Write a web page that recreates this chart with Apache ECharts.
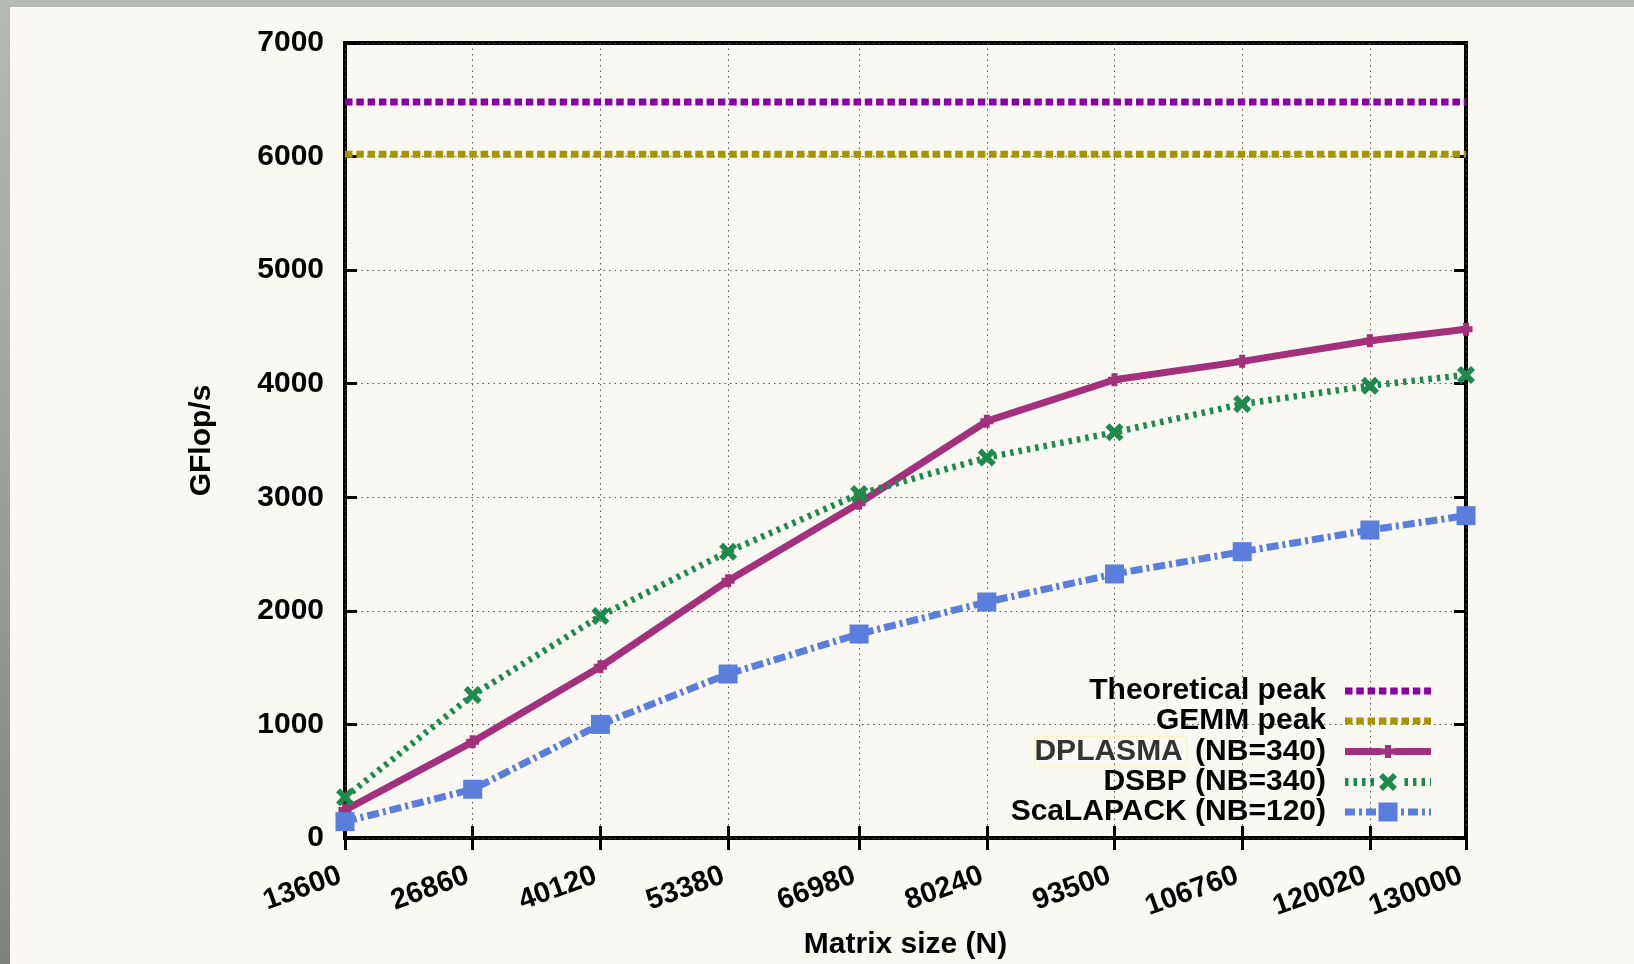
<!DOCTYPE html>
<html>
<head>
<meta charset="utf-8">
<script src="https://cdn.jsdelivr.net/npm/echarts@6/dist/echarts.min.js"></script>
<style>
  html, body { margin: 0; padding: 0; width: 1634px; height: 964px; overflow: hidden;
    background: linear-gradient(to bottom, #b6bab4 0%, #9ca09a 50%, #7e827c 100%); background-color: #9a9e98; }
  #chart { position: absolute; left: 10px; top: 7px; width: 1624px; height: 957px; background: #f9f8f2; }
</style>
</head>
<body>
<div id="chart"></div>
<script>
// ---- data ----
const xValues = [13600, 26860, 40120, 53380, 66980, 80240, 93500, 106760, 120020, 130000];
const theoreticalPeak = 6480;
const gemmPeak = 6020;
const dplasma   = [246, 847, 1508, 2266, 2947, 3670, 4035, 4197, 4379, 4479];
const dsbp      = [358, 1259, 1955, 2521, 3028, 3350, 3572, 3821, 3983, 4077];
const scalapack = [144, 429, 1000, 1444, 1796, 2078, 2325, 2521, 2712, 2838];
const yTicks = { min: 0, max: 7000, interval: 1000 };
const seriesNames = ['Theoretical peak', 'GEMM peak', 'DPLASMA (NB=340)', 'DSBP (NB=340)', 'ScaLAPACK (NB=120)'];

// ---- style ----
const FONT = '"Liberation Sans", Arial, Helvetica, sans-serif';
const C = { theo: '#8800a5', gemm: '#a69500', dpl: '#a3307b', dsbp: '#1f8a4c', sca: '#5b7ddc' };
const xMin = xValues[0], xMax = xValues[xValues.length - 1];

function pair(arr) { return xValues.map((x, i) => [x, arr[i]]); }
function flat(v) { return [[xMin, v], [xMax, v]]; }

// legend icon builders (86 x 20 box)
const IW = 86, IH = 20;
function dashes(pattern, h, skipFrom, skipTo) {
  let x = 0, i = 0, d = '';
  const y0 = IH / 2 - h / 2;
  while (x < IW) {
    const len = pattern[i % pattern.length];
    if (i % 2 === 0) {
      const x1 = Math.min(x + len, IW);
      if (!(x1 > skipFrom && x < skipTo)) d += 'M' + x + ',' + y0 + 'h' + (x1 - x) + 'v' + h + 'h' + (-(x1 - x)) + 'z';
    }
    x += len; i++;
  }
  return d;
}
const PLUS = 'M3.5,0h6v3.5h3.5v6h-3.5v3.5h-6v-3.5h-3.5v-6h3.5z';
const XMARK = 'M4,0L9,5L14,0L18,4L13,9L18,14L14,18L9,13L4,18L0,14L5,9L0,4Z';
const iconTheo = 'path://' + dashes([7.5, 3.8], 7, -1, -1);
const iconDpl = 'path://M0,6.5h36.5v7h-36.5zM49.5,6.5h36.5v7h-36.5zM40,3.5h6v3.5h3.5v6h-3.5v3.5h-6v-3.5h-3.5v-6h3.5z';
const iconDsbp = 'path://' + dashes([3.5, 5], 8, 33, 53) + 'M38,1L43,6L48,1L52,5L47,10L52,15L48,19L43,14L38,19L34,15L39,10L34,5Z';
const iconSca = 'path://' + dashes([10, 4, 3, 4], 7, 32, 54) + 'M33.5,0.5h19v19h-19z';

const chart = echarts.init(document.getElementById('chart'), null, { renderer: 'canvas' });

const gridLine = { show: true, lineStyle: { color: '#555', width: 1, type: [1.5, 4] } };
const tickStyle = { show: true, inside: true, length: 12, lineStyle: { color: '#000', width: 3 } };

const option = {
  animation: false,
  backgroundColor: 'transparent',
  grid: { left: 335, top: 36, right: 168, bottom: 126, show: true, borderColor: '#000', borderWidth: 4,
    backgroundColor: 'transparent', containLabel: false, outerBoundsMode: 'none' },
  legend: {
    orient: 'vertical', align: 'right', right: 198, top: 664,
    itemWidth: IW, itemHeight: IH, itemGap: 0, selectedMode: false,
    itemStyle: { borderWidth: 0 },
    textStyle: { fontFamily: FONT, fontSize: 30, fontWeight: 'bold', color: '#000', lineHeight: 30, padding: [0, 14, 0, 0],
      rich: {
        g: { fontFamily: FONT, fontSize: 30, fontWeight: 'bold', color: '#333', lineHeight: 30, borderColor: '#f8f3c8', borderWidth: 1, padding: [0, 4, 0, 0] },
        n: { fontFamily: FONT, fontSize: 30, fontWeight: 'bold', color: '#000', lineHeight: 30 }
      } },
    formatter: function (name) {
      if (name.indexOf('DPLASMA') === 0) return '{g|DPLASMA}{n|' + name.slice(7) + '}';
      return name;
    },
    data: [
      { name: seriesNames[0], icon: iconTheo },
      { name: seriesNames[1], icon: iconTheo },
      { name: seriesNames[2], icon: iconDpl },
      { name: seriesNames[3], icon: iconDsbp },
      { name: seriesNames[4], icon: iconSca }
    ]
  },
  xAxis: [
    {
      type: 'value', position: 'bottom', min: xMin, max: xMax,
      axisLine: { show: false },
      axisTick: Object.assign({ customValues: xValues }, tickStyle),
      axisLabel: { customValues: xValues, rotate: 20, margin: 35, fontSize: 29, fontWeight: 'bold', color: '#000', fontFamily: FONT,
        padding: [0, 5, 0, 0],
        formatter: v => String(v), showMinLabel: true, showMaxLabel: true, hideOverlap: false },
      splitLine: gridLine,
      name: 'Matrix size (N)', nameLocation: 'middle', nameGap: 92, nameMoveOverlap: false,
      nameTextStyle: { fontSize: 30, fontWeight: 'bold', color: '#000', fontFamily: FONT }
    },
    {
      type: 'value', position: 'top', min: xMin, max: xMax,
      axisLine: { show: false },
      axisTick: Object.assign({ customValues: xValues }, tickStyle),
      axisLabel: { show: false }, splitLine: { show: false }
    }
  ],
  yAxis: [
    {
      type: 'value', position: 'left', min: yTicks.min, max: yTicks.max, interval: yTicks.interval,
      axisLine: { show: false },
      axisTick: tickStyle,
      axisLabel: { margin: 21, fontSize: 30, fontWeight: 'bold', color: '#000', fontFamily: FONT, showMinLabel: true, showMaxLabel: true,
        formatter: v => String(v) },
      splitLine: gridLine,
      name: 'GFlop/s', nameLocation: 'middle', nameGap: 128, nameRotate: 90, nameMoveOverlap: false,
      nameTextStyle: { fontSize: 30, fontWeight: 'bold', color: '#000', fontFamily: FONT }
    },
    {
      type: 'value', position: 'right', min: yTicks.min, max: yTicks.max, interval: yTicks.interval,
      axisLine: { show: false }, axisTick: tickStyle,
      axisLabel: { show: false }, splitLine: { show: false }
    }
  ],
  series: [
    { name: seriesNames[0], type: 'line', data: flat(theoreticalPeak), symbol: 'none', clip: false, silent: true,
      color: C.theo, lineStyle: { color: C.theo, width: 7, type: [7.5, 3.8] }, itemStyle: { color: C.theo, borderWidth: 0 } },
    { name: seriesNames[1], type: 'line', data: flat(gemmPeak), symbol: 'none', clip: false, silent: true,
      color: C.gemm, lineStyle: { color: C.gemm, width: 7, type: [7.5, 3.8] }, itemStyle: { color: C.gemm, borderWidth: 0 } },
    { name: seriesNames[2], type: 'line', data: pair(dplasma), symbol: 'path://' + PLUS, symbolSize: 13, showSymbol: true, clip: false, silent: true,
      color: C.dpl, lineStyle: { color: C.dpl, width: 7 }, itemStyle: { color: C.dpl, borderWidth: 0 } },
    { name: seriesNames[3], type: 'line', data: pair(dsbp), symbol: 'path://' + XMARK, symbolSize: 18, showSymbol: true, clip: false, silent: true,
      color: C.dsbp, lineStyle: { color: C.dsbp, width: 6.5, type: [3.5, 5] }, itemStyle: { color: C.dsbp, borderWidth: 0 } },
    { name: seriesNames[4], type: 'line', data: pair(scalapack), symbol: 'rect', symbolSize: 19, showSymbol: true, clip: false, silent: true,
      color: C.sca, lineStyle: { color: C.sca, width: 7, type: [12, 4, 3, 4] }, itemStyle: { color: C.sca, borderWidth: 0 } }
  ]
};
chart.setOption(option);
</script>
</body>
</html>
